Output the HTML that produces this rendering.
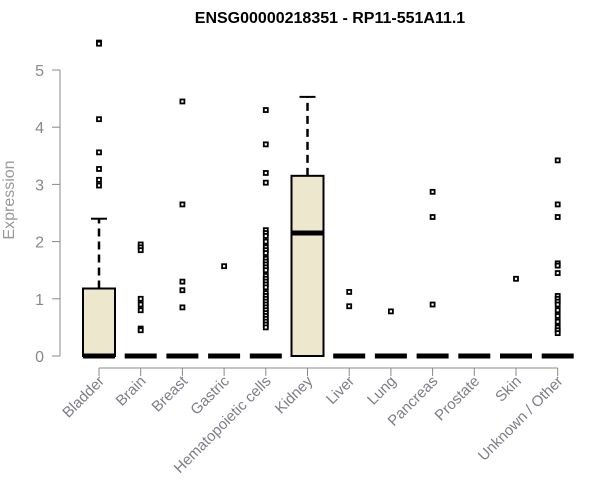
<!DOCTYPE html>
<html><head><meta charset="utf-8"><style>body{margin:0;background:#fff}svg{display:block}</style></head>
<body>
<svg id="chart" width="600" height="500" xmlns="http://www.w3.org/2000/svg" font-family="Liberation Sans, Arial, sans-serif">
<text x="330" y="23" text-anchor="middle" font-size="16" font-weight="bold">ENSG00000218351 - RP11-551A11.1</text>
<text transform="translate(14,200) rotate(-90)" text-anchor="middle" font-size="16" fill="#999">Expression</text>
<g id="axes"></g>
<g id="marks"></g>
</svg>
<script>
const categories = ["Bladder","Brain","Breast","Gastric","Hematopoietic cells","Kidney","Liver","Lung","Pancreas","Prostate","Skin","Unknown / Other"];
const q1 = [0,0,0,0,0,0,0,0,0,0,0,0];
const medians = [0,0,0,0,0,2.15,0,0,0,0,0,0];
const q3 = [1.18,0,0,0,0,3.15,0,0,0,0,0,0];
const whiskerHigh = [2.4,0,0,0,0,4.53,0,0,0,0,0,0];
const outliers = [
 [5.48,5.46,4.14,3.56,3.27,3.08,2.98],
 [1.95,1.9,1.85,1.0,0.9,0.8,0.48,0.45],
 [4.45,2.65,1.3,1.15,0.85],
 [1.57],
 [4.3,3.7,3.2,3.03,2.2,2.15,2.1,2.0,1.9,1.85,1.8,1.7,1.65,1.6,1.55,1.5,1.4,1.35,1.3,1.25,1.2,1.1,1.05,1.0,0.95,0.9,0.85,0.8,0.75,0.7,0.65,0.6,0.55,0.5],
 [],
 [1.12,0.87],
 [0.78],
 [2.87,2.43,0.9],
 [],
 [1.35],
 [3.42,2.65,2.43,1.62,1.58,1.45,1.05,1.0,0.95,0.9,0.8,0.7,0.6,0.5,0.45,0.4]
];
const yTicks = [0,1,2,3,4,5];

const NS="http://www.w3.org/2000/svg";
const y = v => 356 - v*57.2;
const x = i => 99 + i*41.7;
const axes=document.getElementById('axes'), marks=document.getElementById('marks');
function mk(tag, attrs, parent){const e=document.createElementNS(NS,tag);for(const k in attrs)e.setAttribute(k,attrs[k]);parent.appendChild(e);return e;}

let yl=mk('line',{x1:60,x2:60,y1:y(0),y2:y(5),stroke:'#888'},axes);


yTicks.forEach(t=>{
  let l=mk('line',{x1:52,x2:60,y1:y(t),y2:y(t),stroke:'#888'},axes);
  
  
  let tx=mk('text',{x:44,y:y(t)+6,'text-anchor':'end','font-size':16,fill:'#888'},axes);
  tx.textContent=t;
  
  
});
let xl=mk('line',{x1:x(0),x2:x(11),y1:368,y2:368,stroke:'#888'},axes);


categories.forEach((c,i)=>{
  let l=mk('line',{x1:x(i),x2:x(i),y1:368,y2:376,stroke:'#888'},axes);
  
  
  let tx=mk('text',{transform:`translate(${x(i)+6},382) rotate(-45)`,'text-anchor':'end','font-size':15,fill:'#7d7d8a'},axes);
  tx.textContent=c;
  
  

  const cx=x(i), hw=16;
  if(whiskerHigh[i]>q3[i]){
    let w=mk('line',{x1:cx,x2:cx,y1:y(q3[i]),y2:y(whiskerHigh[i]),stroke:'#000','stroke-width':2.5,'stroke-dasharray':'8,5'},marks);
    
    
    let cap=mk('line',{x1:cx-8,x2:cx+8,y1:y(whiskerHigh[i]),y2:y(whiskerHigh[i]),stroke:'#000','stroke-width':2},marks);
    
    
  }
  if(q3[i]>q1[i]){
    let b=mk('rect',{x:cx-hw,y:y(q3[i]),width:2*hw,height:y(q1[i])-y(q3[i]),fill:'#ede7cd',stroke:'#000','stroke-width':2},marks);
    
    
  }
  outliers[i].forEach(v=>{
    let p=mk('rect',{x:cx-2,y:y(v)-2,width:4,height:4,fill:'#fff',stroke:'#000','stroke-width':1.8},marks);
    
    
  });
  let m=mk('line',{x1:cx-hw,x2:cx+hw,y1:y(medians[i]),y2:y(medians[i]),stroke:'#000','stroke-width':5},marks);
  
  
});
</script>
</body></html>
